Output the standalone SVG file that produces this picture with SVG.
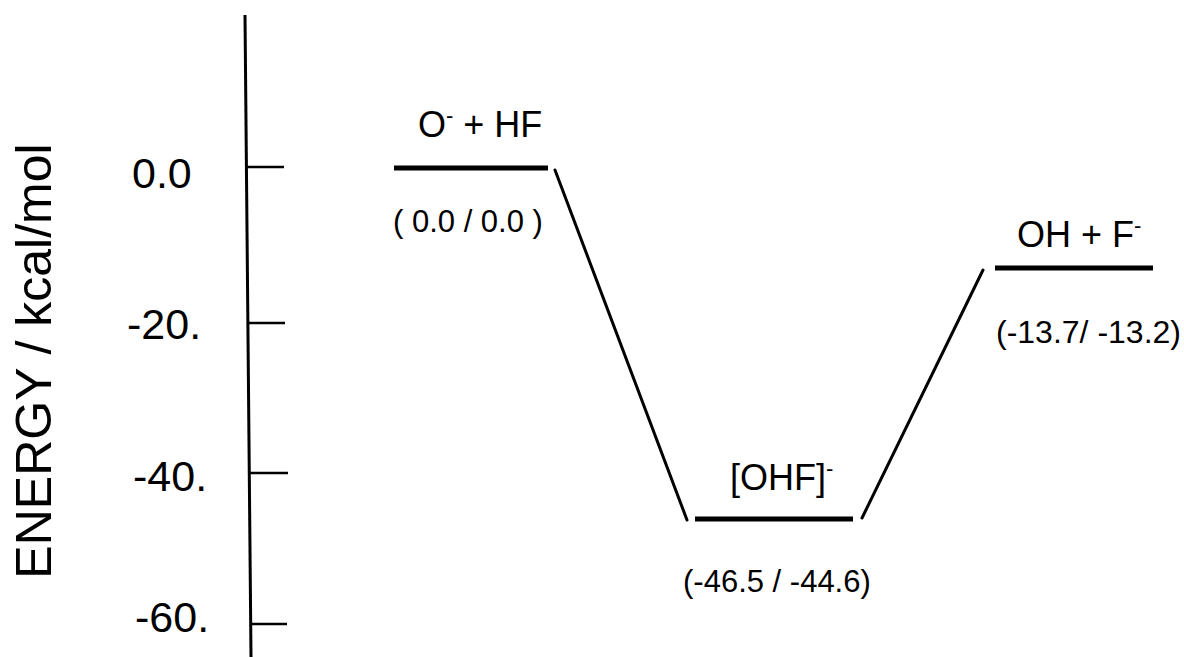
<svg xmlns="http://www.w3.org/2000/svg" width="1184" height="657" viewBox="0 0 1184 657">
  <style>
    text { font-family: "Liberation Sans", Arial, Helvetica, sans-serif; fill: #000; }
    .tick-label { font-size: 43px; }
    .axis-title { font-size: 50px; }
    .species { font-size: 36px; }
    .energy { font-size: 31px; }
    .sup { font-size: 22px; }
    .axis { stroke: #000; stroke-width: 3; }
    .tick { stroke: #000; stroke-width: 2.5; }
    .level { stroke: #000; stroke-width: 5; }
    .link { stroke: #000; stroke-width: 3; stroke-linecap: round; fill: none; }
  </style>
  <rect width="1184" height="657" fill="#fff"/>

  <!-- Energy axis with ticks and labels -->
  <g id="energy-axis">
    <line class="axis" x1="245" y1="15" x2="251" y2="657"/>
    <line class="tick" x1="246" y1="167" x2="284" y2="167"/>
    <line class="tick" x1="247" y1="323" x2="285" y2="323"/>
    <line class="tick" x1="249" y1="473" x2="288" y2="473"/>
    <line class="tick" x1="250" y1="624" x2="287" y2="624"/>
    <text class="tick-label" x="132" y="188">0.0</text>
    <text class="tick-label" x="127" y="339">-20.</text>
    <text class="tick-label" x="133" y="491">-40.</text>
    <text class="tick-label" x="135" y="632">-60.</text>
    <text class="axis-title" transform="translate(51,361) rotate(-90)" text-anchor="middle">ENERGY / kcal/mol</text>
  </g>

  <!-- Reactants: O- + HF -->
  <g id="reactants">
    <line class="level" x1="394" y1="168" x2="548" y2="168"/>
    <text class="species" x="418" y="137">O<tspan class="sup" dy="-14">-</tspan><tspan dy="14"> + HF</tspan></text>
    <text class="energy" x="393" y="232">( 0.0 / 0.0 )</text>
  </g>

  <!-- Ion-molecule complex [OHF]- -->
  <g id="complex">
    <line class="level" x1="695" y1="519" x2="853" y2="519"/>
    <text class="species" x="730" y="490">[OHF]<tspan class="sup" dy="-14">-</tspan></text>
    <text class="energy" x="683" y="592">(-46.5 / -44.6)</text>
  </g>

  <!-- Products: OH + F- -->
  <g id="products">
    <line class="level" x1="995" y1="268" x2="1153" y2="268"/>
    <text class="species" x="1017" y="247">OH + F<tspan class="sup" dy="-14">-</tspan></text>
    <text class="energy" x="996" y="343" style="font-size:32px">(-13.7/ -13.2)</text>
  </g>

  <!-- Connectors between levels -->
  <g id="connectors">
    <line class="link" x1="555" y1="170" x2="687" y2="520"/>
    <line class="link" x1="862" y1="518" x2="983" y2="270"/>
  </g>
</svg>
